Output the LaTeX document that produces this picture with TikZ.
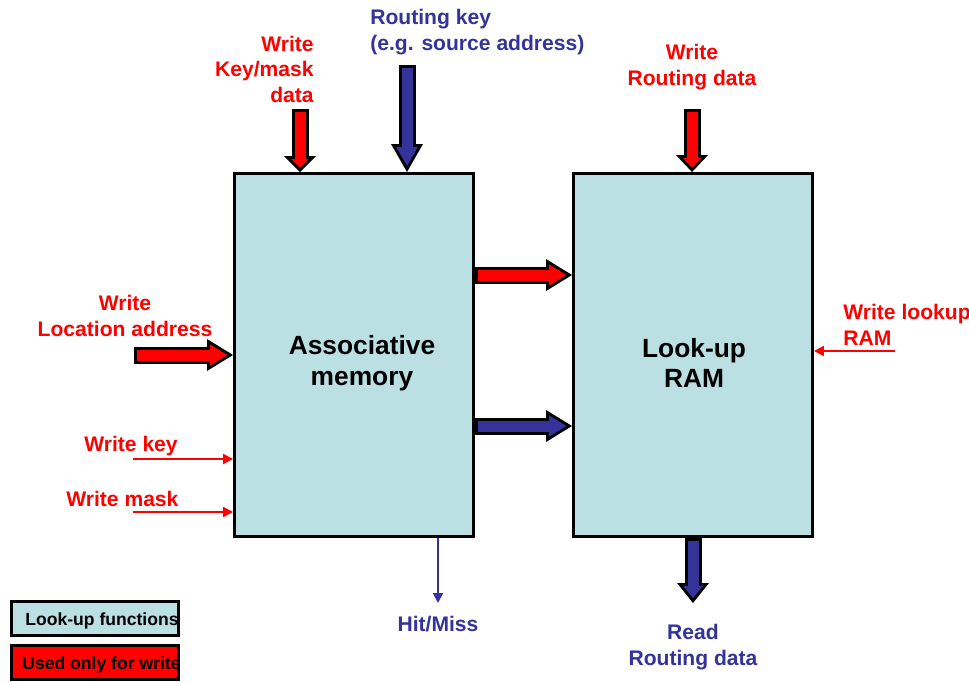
\documentclass[tikz,border=0pt]{standalone}
\usepackage{fontspec}
\setmainfont{Liberation Sans}
\usetikzlibrary{positioning}
\usetikzlibrary{arrows.meta}

\definecolor{keyred}{RGB}{255,0,0}
\definecolor{keyblue}{RGB}{51,51,153}
\definecolor{boxcyan}{RGB}{187,224,227}

% fat arrow with black rim: colour, from, to, head length (px)
\newcommand{\blockarrow}[4]{%
  \pgfmathsetmacro{\arrlen}{#4*0.02}%
  \pgfmathsetmacro{\arrback}{0.06/sin(atan(16/#4))}%
  \pgfmathsetmacro{\arrinlen}{\arrlen-0.06-\arrback}%
  \pgfmathsetmacro{\arrinwid}{0.64*\arrinlen/\arrlen}%
  \draw[line width=0.34cm,black,-{Triangle[width=0.64cm,length=\arrlen cm,line width=0pt]}] #2 -- #3;
  \draw[line width=0.22cm,#1,shorten <=0.06cm,shorten >=\arrback cm,-{Triangle[width=\arrinwid cm,length=\arrinlen cm,line width=0pt]}] #2 -- #3;
}

\begin{document}
\begin{tikzpicture}[x=0.02cm,y=-0.02cm,
  mem/.style={rectangle,draw=black,line width=0.06cm,fill=boxcyan,minimum width=4.78cm,minimum height=7.26cm,inner sep=0pt},
  memtxt/.style={align=center,inner sep=0pt,font=\bfseries\fontsize{15}{17.5}\selectfont},
  lbl/.style={font=\bfseries\fontsize{12}{14.5}\selectfont,inner sep=0pt},
  wire/.style={line width=0.04cm,-{Triangle[width=0.2cm,length=0.2cm]}},
  legbox/.style={rectangle,draw=black,line width=0.06cm,minimum width=3.34cm,minimum height=0.68cm,inner sep=0pt},
  legtext/.style={font=\bfseries\fontsize{10}{12}\selectfont,inner sep=0pt,anchor=west}]
  \useasboundingbox (0,0) rectangle (969,682);

  % the two memories
  \node[mem] (assoc) at (354,355) {};
  \node[mem] (ram) at (693,355) {};
  \node[memtxt] (assoctxt) at ([shift={(8,8)}]assoc.center) {Associative\\memory};
  \node[memtxt] (ramtxt) at ([shift={(1,8)}]ram.center) {Look-up\\RAM};

  % free ends
  \coordinate (kmtop) at (300,109);
  \coordinate (rktop) at (407,65);
  \coordinate (rdtop) at (692,109);
  \coordinate (locin) at (134,355);
  \coordinate (rdout) at (693,603);
  \coordinate (hitout) at (438,603);
  \coordinate (keyin) at (133,459);
  \coordinate (maskin) at (133,512);
  \coordinate (lkin) at (895,351);

  % fat arrows
  \blockarrow{keyred}{(kmtop)}{(assoc.north -| kmtop)}{16}
  \blockarrow{keyblue}{(rktop)}{(assoc.north -| rktop)}{28}
  \blockarrow{keyred}{(rdtop)}{(ram.north -| rdtop)}{17}
  \blockarrow{keyred}{(locin)}{(assoc.west |- locin)}{26}
  \blockarrow{keyred}{(assoc.east |- 0,275)}{(ram.west |- 0,275)}{26}
  \blockarrow{keyblue}{(assoc.east |- 0,426)}{(ram.west |- 0,426)}{26}
  \blockarrow{keyblue}{(ram.south)}{(rdout)}{20}

  % thin arrows
  \draw[wire,keyred] (keyin) -- (assoc.west |- keyin);
  \draw[wire,keyred] (maskin) -- (assoc.west |- maskin);
  \draw[wire,keyred] (lkin) -- (ram.east |- lkin);
  \draw[wire,keyblue] (assoc.south -| hitout) -- (hitout);

  % labels
  \node[lbl,text=keyred,align=right,anchor=east] (kmlbl) at (314,69) {Write\\Key/mask\\data};
  \node[lbl,text=keyblue,align=left,anchor=west] (rklbl) at (370,32) {Routing key\\(e.g. source address)};
  \node[lbl,text=keyred,align=center,above=0.38cm of rdtop] (rdlbl) {Write\\Routing data};
  \node[lbl,text=keyred,align=center] (loclbl) at (125,316) {Write\\Location address};
  \node[lbl,text=keyred,anchor=west] (keylbl) at (84,446) {Write key};
  \node[lbl,text=keyred,anchor=west] (masklbl) at (66,499) {Write mask};
  \node[lbl,text=keyred,align=left,anchor=west] (lklbl) at (843,325) {Write lookup\\RAM};
  \node[lbl,text=keyblue,below=0.26cm of hitout] (hitlbl) {Hit/Miss};
  \node[lbl,text=keyblue,align=center,below=0.42cm of rdout] (outlbl) {Read\\Routing data};

  % legend
  \node[legbox,fill=boxcyan] (legfun) at (95,618) {};
  \node[legtext] (legfuntxt) at ([shift={(15,3)}]legfun.west) {Look-up functions};
  \node[legbox,fill=keyred] (legwr) at (95,662) {};
  \node[legtext] (legwrtxt) at ([shift={(12,3)}]legwr.west) {Used only for write};
\end{tikzpicture}
\end{document}
